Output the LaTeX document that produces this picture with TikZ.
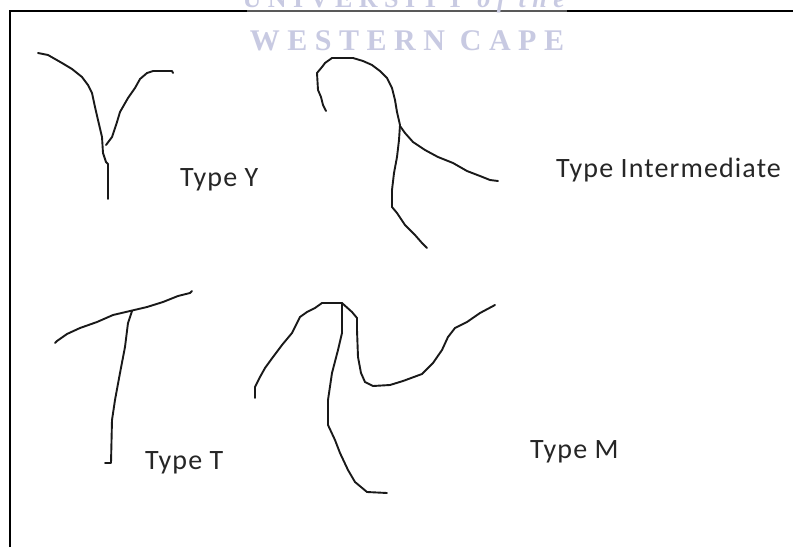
\documentclass[tikz,border=0pt]{standalone}
\usepackage{fontspec}
\setmainfont{Carlito}[LetterSpace=4]
\newfontfamily\wmfont[LetterSpace=25]{Liberation Serif}
\begin{document}
\begin{tikzpicture}[x=1pt,y=-1pt,
  stroke/.style={line width=1.9pt,line join=round,line cap=round,black!90},
  frameline/.style={line width=2pt,black},
  typelabel/.style={anchor=base west,inner sep=0pt,font=\fontsize{28}{30}\selectfont,text=black!85},
  wm/.style={inner sep=0pt,text=wmcol}]
\definecolor{wmcol}{RGB}{200,202,226}
\useasboundingbox (0,0) rectangle (793,547);
\clip (0,0) rectangle (793,547);
\fill[white] (0,0) rectangle (793,547);

% frame
\draw[frameline] (10,547) -- (10,11) -- (793,11);

% Type Y
\draw[stroke] (38,53) -- (48,55) -- (62,63) -- (72,69) -- (82,77) -- (88,85) -- (92,93)
  -- (95,107) -- (98,120) -- (102,137) -- (103,153) -- (106,162) -- (108,164) -- (108,199);
\draw[stroke] (106,145) -- (112,137) -- (117,122) -- (120,112) -- (128,98) -- (135,88)
  -- (140,79) -- (147,73) -- (153,71) -- (172,71) -- (173,73);
\node[typelabel] (ty) at (180,186) {Type Y};

% Type Intermediate
\draw[stroke] (326,111) -- (323,105) -- (321,97) -- (318,90) -- (317,73) -- (322,67)
  -- (325,63) -- (332,58) -- (353,58) -- (363,61) -- (372,65) -- (380,71) -- (387,78)
  -- (392,88) -- (395,100) -- (397,112) -- (400,125) -- (399,140) -- (397,157)
  -- (394,173) -- (392,190) -- (392,207) -- (397,213) -- (405,225) -- (415,235)
  -- (422,243) -- (427,248);
\draw[stroke] (400,126) -- (405,133) -- (413,142) -- (425,150) -- (438,157) -- (453,163)
  -- (467,171) -- (480,176) -- (490,180) -- (498,181);
\node[typelabel] (ti) at (556,177) {Type Intermediate};

% Type T
\draw[stroke] (55,343) -- (57,341) -- (67,334) -- (80,328) -- (97,322) -- (113,315)
  -- (130,311) -- (147,307) -- (163,302) -- (178,296) -- (190,293) -- (192,291);
\draw[stroke] (132,311) -- (128,323) -- (125,347) -- (120,373) -- (115,400) -- (112,420)
  -- (111,463) -- (105,463);
\node[typelabel] (tt) at (145,469) {Type T};

% Type M
\draw[stroke] (255,398) -- (255,387) -- (260,377) -- (265,368) -- (273,357) -- (282,345)
  -- (292,333) -- (300,317) -- (307,312) -- (315,308) -- (322,303) -- (342,303);
\draw[stroke] (342,303) -- (342,333) -- (338,350) -- (332,373) -- (328,400) -- (328,425)
  -- (335,440) -- (340,453) -- (348,470) -- (355,482) -- (367,492) -- (387,493);
\draw[stroke] (342,303) -- (352,312) -- (357,318) -- (357,330) -- (358,357) -- (361,373)
  -- (365,382) -- (373,386) -- (390,385) -- (403,381) -- (422,374) -- (433,363)
  -- (442,350) -- (448,337) -- (455,328) -- (467,322) -- (480,313) -- (495,305);
\node[typelabel] (tm) at (530,458) {Type M};

% watermark
\fill[white,opacity=0.35] (247,0) rectangle (567,53);
\node[wm,anchor=base] (wm1) at (407,7) {\wmfont\bfseries\fontsize{26}{28}\selectfont UNIVERSITY \textit{of the}};
\node[wm,anchor=base] (wm2) at (407,50) {\wmfont\bfseries\fontsize{30}{32}\selectfont WESTERN CAPE};
\end{tikzpicture}
\end{document}
